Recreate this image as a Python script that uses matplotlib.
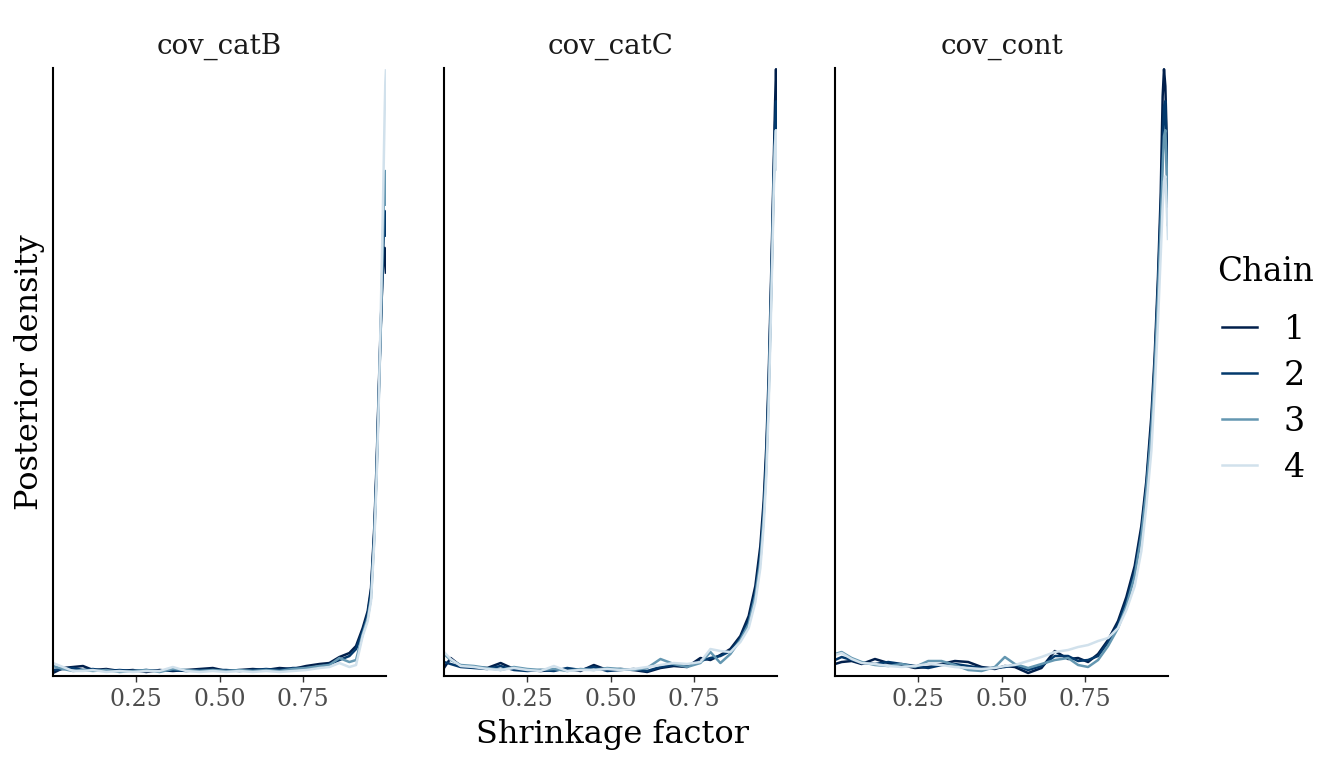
import matplotlib.pyplot as plt
from matplotlib.lines import Line2D

plt.rcParams['font.family'] = ['DejaVu Serif']

panels = ['cov_catB', 'cov_catC', 'cov_cont']
chains = ['1', '2', '3', '4']
chain_colors = ['#011f4b', '#03396c', '#6497b1', '#d1e1ec']
x_ticks = [0.25, 0.50, 0.75]
x_tick_labels = ['0.25', '0.50', '0.75']

# shrinkage grid points and posterior density per chain (density x10)
grid_catB = [0.0, 0.03, 0.06, 0.09, 0.12, 0.16, 0.20, 0.24, 0.28, 0.32, 0.36, 0.40, 0.44,
             0.48, 0.52, 0.56, 0.60, 0.64, 0.68, 0.72, 0.76, 0.80, 0.83, 0.86, 0.89, 0.91,
             0.93, 0.945, 0.955, 0.965, 0.972, 0.978, 0.984, 0.989, 0.993, 0.996, 0.998, 1.0]
dens_catB_1 = [3, 8, 9, 10, 6, 7, 5, 6, 4, 6, 5, 6, 7, 8, 5, 6, 7, 6, 8, 7, 10, 12, 13, 19, 23,
               30, 48, 65, 88, 150, 215, 285, 350, 395, 420, 429, 420, 403]
dens_catB_2 = [6, 7, 8, 6, 7, 5, 6, 5, 6, 5, 6, 5, 6, 6, 6, 5, 6, 7, 6, 8, 8, 9, 12, 16, 20,
               27, 45, 62, 84, 145, 210, 280, 345, 400, 440, 466, 460, 440]
dens_catB_3 = [10, 7, 5, 6, 5, 6, 4, 5, 6, 4, 7, 6, 5, 6, 5, 6, 5, 6, 5, 7, 8, 10, 11, 18, 14,
               16, 42, 58, 78, 140, 205, 275, 345, 410, 470, 500, 506, 471]
dens_catB_4 = [13, 9, 5, 5, 6, 4, 5, 4, 5, 5, 9, 5, 4, 5, 4, 5, 4, 5, 4, 5, 6, 8, 9, 13, 9,
               11, 40, 55, 75, 135, 200, 270, 360, 440, 510, 565, 595, 608]

grid_catC = [0.0, 0.02, 0.05, 0.09, 0.13, 0.17, 0.21, 0.25, 0.29, 0.33, 0.37, 0.41, 0.45,
             0.49, 0.53, 0.57, 0.61, 0.65, 0.69, 0.73, 0.77, 0.80, 0.83, 0.86, 0.89, 0.915,
             0.935, 0.95, 0.96, 0.968, 0.975, 0.981, 0.986, 0.990, 0.994, 0.997, 1.0]
dens_catC_1 = [8, 18, 10, 9, 8, 13, 7, 6, 5, 6, 7, 5, 11, 6, 7, 6, 4, 8, 10, 9, 18, 16, 21, 27,
               40, 60, 90, 130, 175, 230, 300, 380, 450, 510, 570, 607, 563]
dens_catC_2 = [14, 12, 9, 8, 7, 10, 6, 5, 6, 5, 8, 6, 9, 5, 6, 7, 5, 9, 11, 10, 15, 18, 20, 25,
               38, 56, 84, 122, 165, 220, 290, 370, 440, 500, 550, 575, 540]
dens_catC_3 = [22, 16, 11, 10, 8, 6, 9, 7, 6, 7, 5, 7, 6, 8, 7, 6, 8, 17, 12, 9, 13, 24, 13, 22,
               36, 52, 80, 115, 160, 210, 280, 360, 430, 490, 535, 546, 506]
dens_catC_4 = [24, 17, 10, 9, 7, 6, 8, 6, 5, 10, 5, 6, 6, 7, 6, 7, 9, 11, 13, 12, 14, 27, 25, 24,
               34, 48, 74, 108, 150, 200, 270, 350, 420, 480, 530, 546, 506]

grid_cont = [0.0, 0.02, 0.05, 0.08, 0.12, 0.16, 0.20, 0.24, 0.28, 0.32, 0.36, 0.40, 0.44,
             0.48, 0.51, 0.54, 0.58, 0.62, 0.66, 0.70, 0.73, 0.76, 0.79, 0.82, 0.85, 0.875,
             0.90, 0.92, 0.935, 0.95, 0.96, 0.97, 0.978, 0.984, 0.988, 0.992, 0.996, 1.0]
dens_cont_1 = [12, 14, 15, 12, 17, 13, 11, 8, 9, 12, 15, 14, 9, 7, 10, 9, 3, 8, 25, 17, 18, 14,
               22, 36, 55, 79, 110, 150, 195, 260, 320, 400, 480, 580, 607, 590, 540, 470]
dens_cont_2 = [16, 19, 16, 13, 12, 14, 12, 10, 8, 11, 12, 10, 8, 8, 9, 11, 6, 10, 20, 20, 15, 16,
               20, 34, 52, 75, 105, 145, 190, 252, 312, 390, 465, 530, 570, 575, 520, 450]
dens_cont_3 = [22, 24, 18, 14, 11, 10, 12, 9, 15, 15, 11, 6, 5, 9, 19, 12, 8, 12, 16, 18, 11, 9,
               16, 30, 48, 70, 100, 140, 185, 245, 305, 380, 450, 510, 540, 546, 510, 470]
dens_cont_4 = [21, 23, 17, 13, 12, 10, 9, 10, 12, 11, 9, 8, 7, 8, 10, 11, 15, 19, 24, 26, 29, 31,
               35, 38, 48, 66, 90, 125, 170, 225, 285, 355, 420, 470, 495, 500, 470, 436]

grids = [grid_catB, grid_catC, grid_cont]
densities = [
    [dens_catB_1, dens_catB_2, dens_catB_3, dens_catB_4],
    [dens_catC_1, dens_catC_2, dens_catC_3, dens_catC_4],
    [dens_cont_1, dens_cont_2, dens_cont_3, dens_cont_4],
]

fig = plt.figure(figsize=(13.44, 7.68), dpi=100)
lefts = [53 / 1344, 444 / 1344, 835 / 1344]

for i, name in enumerate(panels):
    ax = fig.add_axes([lefts[i], 1 - 676 / 768, 333 / 1344, 608 / 768])
    top = 0
    for j, dens in enumerate(densities[i]):
        vals = [d / 10 for d in dens]
        ax.plot(grids[i], vals, color=chain_colors[j], lw=1.8, solid_capstyle='butt',
                solid_joinstyle='round')
        top = max(top, max(vals))
    ax.set_xlim(0, 1)
    ax.set_ylim(0, top * 1.002)
    ax.set_yticks([])
    ax.set_xticks(x_ticks)
    ax.set_xticklabels(x_tick_labels)
    ax.tick_params(axis='x', length=4, width=1, color='#333333', labelsize=17,
                   labelcolor='#4D4D4D', pad=5)
    for s in ['top', 'right']:
        ax.spines[s].set_visible(False)
    for s in ['left', 'bottom']:
        ax.spines[s].set_linewidth(1.5)
        ax.spines[s].set_color('black')
    ax.set_title(name, fontsize=20, color='#1A1A1A', pad=10)

fig.text(612 / 1344, 1 - 735 / 768, 'Shrinkage factor', ha='center', va='center', fontsize=23)
fig.text(30 / 1344, 1 - 372 / 768, 'Posterior density', ha='center', va='center',
         rotation=90, fontsize=23)

# legend title placed separately so the gap to the first key matches
fig.text(1217 / 1344, 1 - 272 / 768, 'Chain', ha='left', va='center', fontsize=23.5)
handles = [Line2D([], [], color=c, lw=1.8) for c in chain_colors]
fig.legend(handles, chains, loc='upper left',
           bbox_to_anchor=(1192 / 1344, 1 - 284 / 768), frameon=False, fontsize=24,
           handlelength=1.05, handletextpad=0.8, labelspacing=0.42)

fig.savefig('out.png', dpi=100)
